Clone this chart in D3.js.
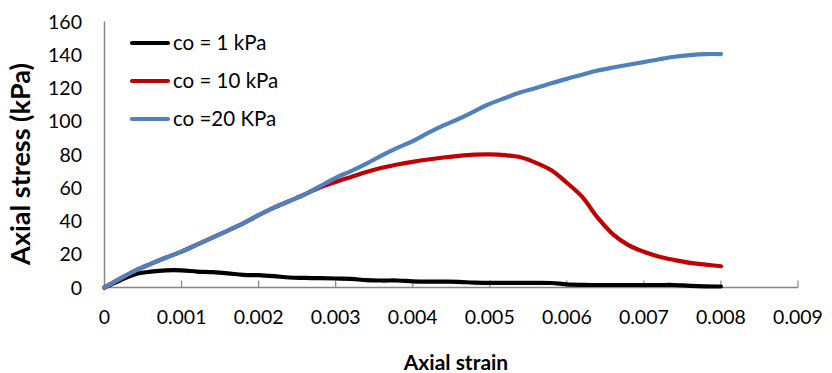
<!DOCTYPE html>
<html>
<head>
<meta charset="utf-8">
<script src="https://cdn.jsdelivr.net/npm/d3@7"></script>
<style>
  html, body { margin: 0; padding: 0; background: #fff; }
  svg { display: block; }
  text { font-family: Lato, "Open Sans", sans-serif; fill: #000; }
</style>
</head>
<body>
<svg id="chart" width="832" height="373"></svg>
<script>
// ---- data ----
const strain = [0,0.0002,0.0004,0.0006,0.0008,0.001,0.0012,0.0014,0.0016,0.0018,0.002,
  0.0022,0.0024,0.0026,0.0028,0.003,0.0032,0.0034,0.0036,0.0038,0.004,
  0.0042,0.0044,0.0046,0.0048,0.005,0.0052,0.0054,0.0056,0.0058,0.006,
  0.0062,0.0064,0.0066,0.0068,0.007,0.0072,0.0074,0.0076,0.0078,0.008];
const stress1 = [0,4.2,8,9.5,10.3,10.3,9.6,9.2,8.5,7.6,7.4,
  6.8,6.0,5.8,5.6,5.4,5.2,4.4,4.2,4.2,3.7,
  3.5,3.5,3.4,2.9,2.8,2.8,2.8,2.8,2.7,1.9,
  1.6,1.5,1.5,1.5,1.5,1.5,1.5,1.0,0.7,0.6];
const stress10 = [0,5.2,10.2,14.2,18,21.6,25.8,30,34.2,38.6,43.5,
  48,52,56,60.3,63.5,66.5,69.5,72,74,75.6,
  77,78.2,79.2,79.9,80.1,79.6,78.3,75,70.5,63,
  54.5,42,32,25.5,21.5,18.5,16.5,14.8,13.8,12.8];
const stress20 = [0,5.2,10.2,14.2,18,21.6,25.8,30,34.2,38.6,43.5,
  48,52,56,61,66,70,74.5,79.5,84,88,
  93,97.5,101.5,106,110.5,114,117.5,120,122.8,125.5,
  128,130.5,132.3,134,135.6,137.3,138.8,139.8,140.4,140.4];
const seriesNames = ["co = 1 kPa", "co = 10 kPa", "co =20 KPa"];
const seriesColors = ["#000000", "#C00000", "#4F81BD"];
const xTicks = [0,0.001,0.002,0.003,0.004,0.005,0.006,0.007,0.008,0.009];
const xTickLabels = ["0","0.001","0.002","0.003","0.004","0.005","0.006","0.007","0.008","0.009"];
const yTicks = [0,20,40,60,80,100,120,140,160];
const xTitle = "Axial strain";
const yTitle = "Axial stress (kPa)";

// ---- drawing ----
const svg = d3.select("#chart");
const x = d3.scaleLinear().domain([0, 0.009]).range([104.5, 798]);
const y = d3.scaleLinear().domain([0, 160]).range([287.5, 21.5]);
const axisColor = "#868686";

// x axis
const gx = svg.append("g").attr("transform", `translate(0,${y(0)})`);
gx.append("line").attr("x1", x(0)).attr("x2", x(0.009))
  .attr("stroke", axisColor).attr("stroke-width", 1.5);
gx.selectAll("line.tick").data(xTicks.slice(1)).enter().append("line")
  .attr("class", "tick")
  .attr("x1", d => x(d)).attr("x2", d => x(d))
  .attr("y1", 0).attr("y2", -7)
  .attr("stroke", axisColor).attr("stroke-width", 1.2);
gx.selectAll("text").data(xTicks).enter().append("text")
  .attr("x", d => x(d)).attr("y", 36.5)
  .attr("text-anchor", "middle")
  .style("font-size", "19.5px")
  .text((d, i) => xTickLabels[i]);

// y axis
svg.append("line").attr("x1", x(0)).attr("x2", x(0))
  .attr("y1", y(0)).attr("y2", y(160))
  .attr("stroke", axisColor).attr("stroke-width", 1.5);
svg.selectAll("text.ytick").data(yTicks).enter().append("text")
  .attr("class", "ytick")
  .attr("x", 82).attr("y", d => y(d))
  .attr("dy", "0.36em")
  .attr("text-anchor", "end")
  .style("font-size", "19.5px")
  .text(d => d);

// titles
svg.append("text").attr("x", 456).attr("y", 370)
  .attr("text-anchor", "middle")
  .style("font-size", "21px").style("font-weight", "bold")
  .text(xTitle);
svg.append("text")
  .attr("transform", "translate(30,164) rotate(-90)")
  .attr("text-anchor", "middle")
  .style("font-size", "27px").style("font-weight", "bold")
  .text(yTitle);

// lines
const allSeries = [stress1, stress10, stress20];
const line = d3.line()
  .x((d, i) => x(strain[i]))
  .y(d => y(d))
  .curve(d3.curveCatmullRom.alpha(0.5));
allSeries.forEach((s, k) => {
  svg.append("path").datum(s)
    .attr("d", line)
    .attr("fill", "none")
    .attr("stroke", seriesColors[k])
    .attr("stroke-width", 4.2)
    .attr("stroke-linecap", "round")
    .attr("stroke-linejoin", "round");
});

// legend
const legY = [43, 81, 119];
seriesNames.forEach((name, k) => {
  svg.append("line").attr("x1", 132).attr("x2", 168)
    .attr("y1", legY[k]).attr("y2", legY[k])
    .attr("stroke", seriesColors[k]).attr("stroke-width", 4.2)
    .attr("stroke-linecap", "round");
  svg.append("text").attr("x", 173).attr("y", legY[k])
    .attr("dy", "0.36em")
    .style("font-size", "20.5px")
    .text(name);
});
</script>
</body>
</html>
